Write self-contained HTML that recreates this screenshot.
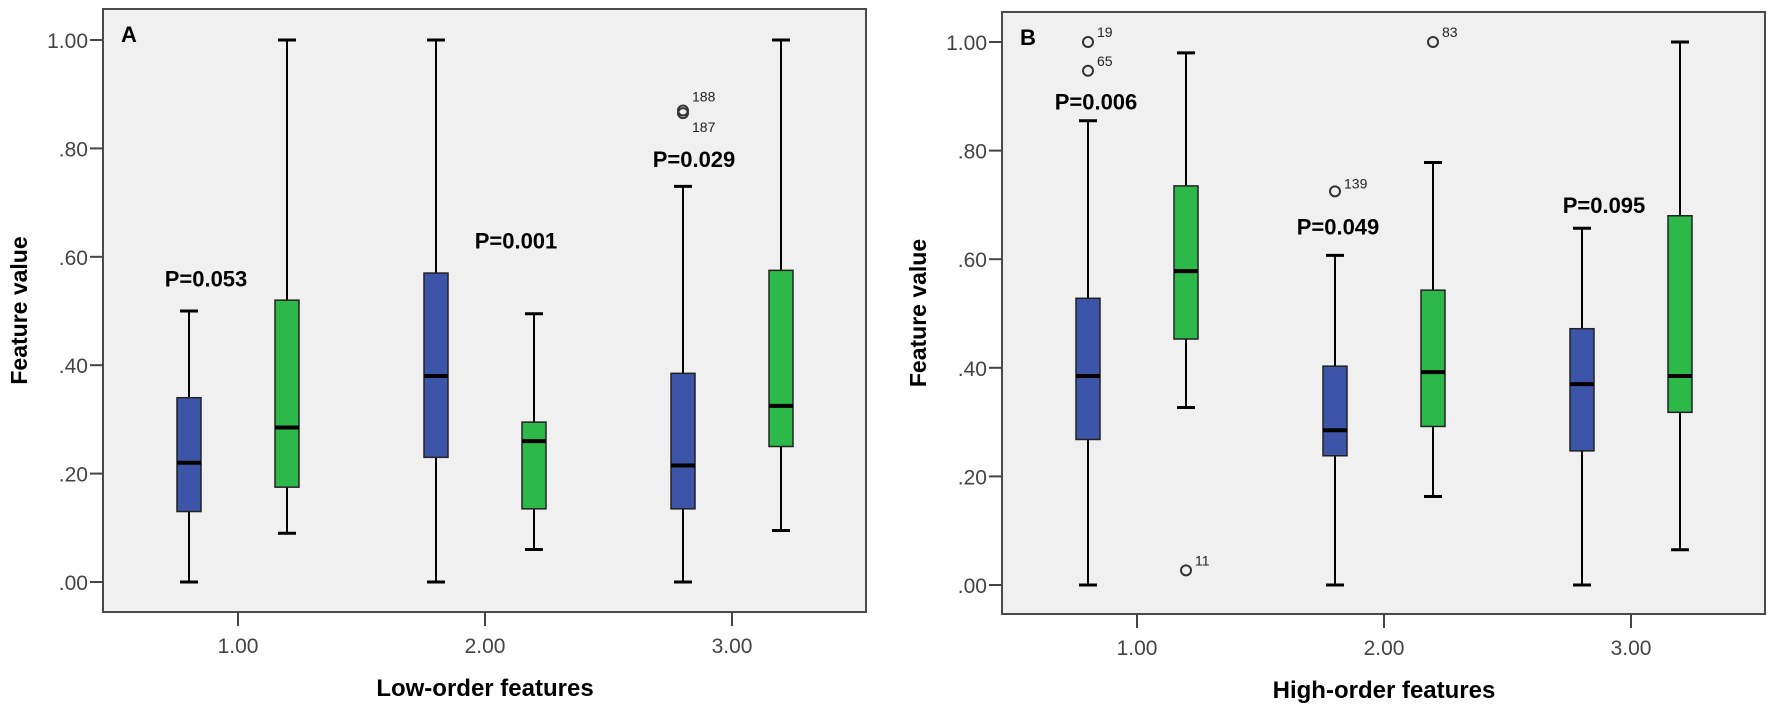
<!DOCTYPE html>
<html><head><meta charset="utf-8"><style>
html,body{margin:0;padding:0;background:#fff;}
svg{display:block;font-family:"Liberation Sans",Arial,sans-serif;}
</style></head><body>
<svg id="chart" width="1772" height="709" viewBox="0 0 1772 709"></svg>
<script>
const categories = ["1.00","2.00","3.00"];
const yTicks = [0, 0.2, 0.4, 0.6, 0.8, 1.0];
const yTickLabels = [".00",".20",".40",".60",".80","1.00"];
// [min, q1, median, q3, max]
const lowBlue  = [[0,0.13,0.22,0.34,0.50],[0,0.23,0.38,0.57,1.00],[0,0.135,0.215,0.385,0.73]];
const lowGreen = [[0.09,0.175,0.285,0.52,1.00],[0.06,0.135,0.26,0.295,0.495],[0.095,0.25,0.325,0.575,1.00]];
const highBlue  = [[0,0.268,0.385,0.528,0.855],[0,0.238,0.285,0.403,0.607],[0,0.247,0.37,0.472,0.657]];
const highGreen = [[0.327,0.453,0.578,0.735,0.98],[0.163,0.292,0.392,0.543,0.778],[0.065,0.318,0.385,0.68,1.00]];
// outliers: [category index, group(0 blue,1 green), value, label, labelDy]
const lowOutliers = [[2,0,0.865,"187",14],[2,0,0.87,"188",-14]];
const highOutliers = [[0,0,1.00,"19",-10],[0,0,0.947,"65",-10],[0,1,0.027,"11",-10],[1,0,0.725,"139",-8],[1,1,1.00,"83",-10]];
// p-values: [category index, offset in px, y value, text]
const lowP = [[0,-32,0.56,"P=0.053"],[1,31,0.63,"P=0.001"],[2,-38,0.78,"P=0.029"]];
const highP = [[0,-41,0.89,"P=0.006"],[1,-46,0.66,"P=0.049"],[2,-27,0.70,"P=0.095"]];

const svg = document.getElementById('chart');
const NS = "http://www.w3.org/2000/svg";
function el(tag, attrs, parent){const e=document.createElementNS(NS,tag);for(const k in attrs)e.setAttribute(k,attrs[k]);(parent||svg).appendChild(e);return e;}

function panel(cfg){
  const g = el('g',{});
  
  
  const {left,right,top,bottom,y0,y1,x1,step} = cfg;
  const ys = v => y0 + (y1 - y0) * v;
  const xs = i => x1 + step * i;
  const bg = el('rect',{x:left,y:top,width:right-left,height:bottom-top,fill:'#f0f0f0',stroke:'#4a4a4a','stroke-width':2},g);
  
  
  const lab = el('text',{x:left+18,y:top+33,'font-size':22,'font-weight':'bold',fill:'#000'},g);
  lab.textContent = cfg.letter;
  
  
  yTicks.forEach((t,i)=>{
    const y = ys(t);
    el('line',{x1:left-13,x2:left,y1:y,y2:y,stroke:'#444','stroke-width':2},g);
    const tx = el('text',{x:left-15,y:y+8,'font-size':21,'text-anchor':'end',fill:'#444'},g);
    tx.textContent = yTickLabels[i];
    
    
  });
  categories.forEach((c,i)=>{
    const x = xs(i);
    el('line',{x1:x,x2:x,y1:bottom,y2:bottom+14,stroke:'#444','stroke-width':2},g);
    const tx = el('text',{x:x,y:bottom+41,'font-size':21,'text-anchor':'middle',fill:'#444'},g);
    tx.textContent = c;
    
    
  });
  const yt = el('text',{x:0,y:0,'font-size':23,'font-weight':'bold',fill:'#000','text-anchor':'middle',transform:`translate(${left-76},${(top+bottom)/2}) rotate(-90)`},g);
  yt.textContent = 'Feature value';
  
  
  const xt = el('text',{x:xs(1),y:bottom+84,'font-size':24,'font-weight':'bold',fill:'#000','text-anchor':'middle'},g);
  xt.textContent = cfg.xtitle;
  
  

  const groups = [[cfg.blue,'#3d55a8',-49,'blue'],[cfg.green,'#2db84a',49,'green']];
  groups.forEach(([data,color,off,nm])=>{
    data.forEach((d,i)=>{
      const cx = xs(i)+off, w=24;
      const bg2 = el('g',{},g);
      
      
      el('line',{x1:cx,x2:cx,y1:ys(d[0]),y2:ys(d[4]),stroke:'#000','stroke-width':2},bg2);
      el('line',{x1:cx-9,x2:cx+9,y1:ys(d[0]),y2:ys(d[0]),stroke:'#000','stroke-width':3},bg2);
      el('line',{x1:cx-9,x2:cx+9,y1:ys(d[4]),y2:ys(d[4]),stroke:'#000','stroke-width':3},bg2);
      el('rect',{x:cx-w/2,y:ys(d[3]),width:w,height:ys(d[1])-ys(d[3]),fill:color,stroke:'#222','stroke-width':1.5},bg2);
      el('line',{x1:cx-w/2,x2:cx+w/2,y1:ys(d[2]),y2:ys(d[2]),stroke:'#000','stroke-width':4},bg2);
    });
  });
  cfg.outliers.forEach(o=>{
    const cx = xs(o[0]) + (o[1]?49:-49), cy = ys(o[2]);
    const c = el('circle',{cx:cx,cy:cy,r:5,fill:'none',stroke:'#333','stroke-width':2},g);
    
    
    const t = el('text',{x:cx+9,y:cy+o[4]+5,'font-size':14,fill:'#222'},g);
    t.textContent = o[3];
    
    
  });
  cfg.p.forEach(p=>{
    const t = el('text',{x:xs(p[0])+p[1],y:ys(p[2])+8,'font-size':22,'font-weight':'bold',fill:'#000','text-anchor':'middle'},g);
    t.textContent = p[3];
    
    
  });
}
panel({name:'panel-a',letter:'A',left:103,right:866,top:9,bottom:612,y0:582,y1:40,x1:238,step:247,xtitle:'Low-order features',blue:lowBlue,green:lowGreen,outliers:lowOutliers,p:lowP});
panel({name:'panel-b',letter:'B',left:1002,right:1765,top:12,bottom:614,y0:585,y1:42,x1:1137,step:247,xtitle:'High-order features',blue:highBlue,green:highGreen,outliers:highOutliers,p:highP});
</script>
</body></html>
